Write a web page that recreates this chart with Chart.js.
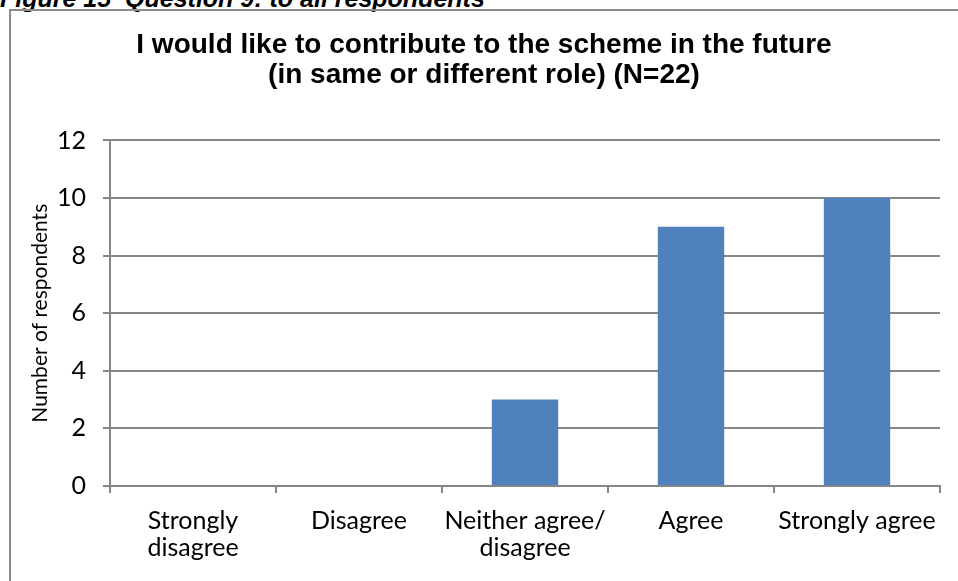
<!DOCTYPE html>
<html>
<head>
<meta charset="utf-8">
<script src="https://cdn.jsdelivr.net/npm/chart.js@4.4.1/dist/chart.umd.min.js"></script>
<style>
  body { margin: 0; background: #fff; overflow: hidden; }
  #wrap { position: relative; width: 958px; height: 581px; overflow: hidden; }
  .caption {
    position: absolute; left: 0; top: -16px;
    font: italic bold 25px "Liberation Sans", Arial, sans-serif;
    color: #000; white-space: nowrap;
  }
  .frame {
    position: absolute; left: 9px; top: 9px; width: 1000px; height: 700px;
    border: 2px solid #8c8c8c; box-sizing: border-box;
  }
  #myChart { position: absolute; left: 0; top: 0; }
</style>
</head>
<body>
<div id="wrap">
  <div class="caption">Figure 15&nbsp;&nbsp;Question 9: to all respondents</div>
  <div class="frame"></div>
  <canvas id="myChart" width="958" height="581"></canvas>
</div>
<script>
let categories = [['Strongly', 'disagree'], 'Disagree', ['Neither agree/', 'disagree'], 'Agree', 'Strongly agree'];
let respondents = [0, 0, 3, 9, 10];
let yTicks = [0, 2, 4, 6, 8, 10, 12];

let tickFont = { family: 'Lato, "Open Sans", sans-serif', size: 25, lineHeight: 1.1 };
let gridGray = '#868686';

let ctx = document.getElementById('myChart').getContext('2d');
let chart = new Chart(ctx, {
    type: 'bar',
    data: {
        labels: categories,
        datasets: [{
            label: 'Number of respondents',
            data: respondents,
            backgroundColor: '#4f81bd',
            borderWidth: 0,
            barPercentage: 1,
            categoryPercentage: 0.4
        }]
    },
    options: {
        responsive: false,
        animation: false,
        layout: { padding: { left: 28, right: 18, top: 0, bottom: 0 } },
        plugins: {
            legend: { display: false },
            tooltip: { enabled: false },
            title: {
                display: true,
                text: ['I would like to contribute to the scheme in the future', '(in same or different role) (N=22)'],
                color: '#000',
                font: { family: '"Liberation Sans", Arial, sans-serif', size: 28, weight: 'bold', lineHeight: 1.08 },
                padding: { top: 30, bottom: 50 }
            }
        },
        scales: {
            x: {
                grid: { drawOnChartArea: false, drawTicks: true, tickLength: 7, color: gridGray, lineWidth: 2, offset: true },
                border: { color: gridGray, width: 2 },
                ticks: { color: '#000', font: tickFont, padding: 14, maxRotation: 0, autoSkip: false },
                afterFit: function (scale) { scale.height = 95; }
            },
            y: {
                min: 0,
                max: 12,
                afterBuildTicks: function (scale) { scale.ticks = yTicks.map(v => ({ value: v })); },
                grid: { color: gridGray, lineWidth: 2, tickLength: 7 },
                border: { color: gridGray, width: 2 },
                ticks: { color: '#000', font: tickFont, padding: 17 },
                title: {
                    display: true,
                    text: 'Number of respondents',
                    color: '#000',
                    font: { family: 'Lato, "Open Sans", sans-serif', size: 21 },
                    padding: { top: 0, bottom: 4 }
                },
                afterFit: function (scale) { scale.width = 82; }
            }
        }
    }
});
</script>
</body>
</html>
